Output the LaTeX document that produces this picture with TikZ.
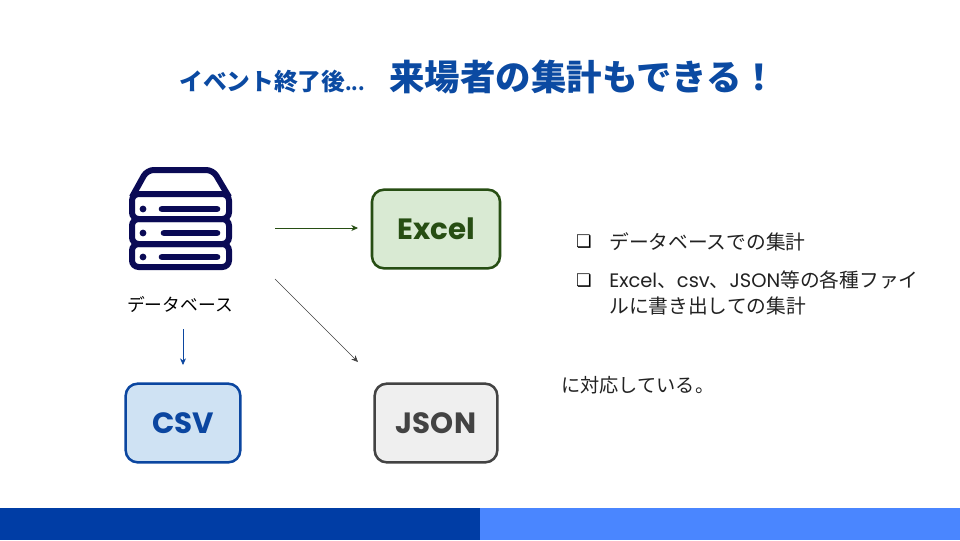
\documentclass[tikz,border=0pt]{standalone}
\usepackage{fontspec}
\setmainfont{Poppins}
\newfontfamily\jpfont{Noto Sans CJK JP}
\usetikzlibrary{arrows.meta}
\definecolor{titleblue}{HTML}{0B4AA2}
\definecolor{barblue}{HTML}{003DA5}
\definecolor{barlight}{HTML}{4A86FF}
\definecolor{dbnavy}{HTML}{0A0A55}
\definecolor{excelgreen}{HTML}{274E13}
\definecolor{excelfill}{HTML}{D9EAD3}
\definecolor{csvblue}{HTML}{0B46A0}
\definecolor{csvfill}{HTML}{CFE2F3}
\definecolor{jsongray}{HTML}{434343}
\definecolor{jsonfill}{HTML}{EFEFEF}
\definecolor{bodytext}{HTML}{222222}
\tikzset{
	filebox/.style={line width=1.9pt, rounded corners=9pt, font=\bfseries\fontsize{22}{22}\selectfont},
	bodylabel/.style={anchor=west, inner sep=0pt, text=bodytext, font=\jpfont\fontsize{14.8}{19.5}\selectfont},
	bulletmark/.style={inner sep=0pt, text=black, font=\fontsize{13}{13}\selectfont},
	flow/.style={-{Stealth[length=5pt,width=4.5pt]}, line width=0.5pt}
}
\newfontfamily\symbolfont{DejaVu Sans}
\newcommand{\latinpart}[1]{{\fontsize{14.6}{19.5}\selectfont\rmfamily #1}}
\begin{document}
\begin{tikzpicture}[x=0.75pt, y=-0.75pt]
	\useasboundingbox (0,0) rectangle (960,540);
	\fill[white] (0,0) rectangle (960,540);

	% Bottom bars
	\fill[barblue] (0,508) rectangle (480,540);
	\fill[barlight] (480,508) rectangle (960,540);

	% Title
	\node[anchor=base west, inner sep=0pt, text=titleblue, font=\jpfont\bfseries\fontsize{17.8}{18}\selectfont] (subtitle) at (179,90) {イベント終了後{\fontsize{14}{14}\selectfont...}};
	\node[anchor=base west, inner sep=0pt, text=titleblue, font=\jpfont\bfseries\fontsize{26.6}{27}\selectfont] (title) at (389,90) {来場者の集計もできる！};

	% Database icon
	\draw[dbnavy, line width=4.5pt, line join=round, rounded corners=5pt] (132,197) -- (147,170) -- (213,170) -- (229,197);
	\foreach \top/\bot/\mid/\barleft in {194/219/209/162, 219/244/233/164, 244/267/257/162} {
		\draw[dbnavy, line width=4.5pt, rounded corners=5pt] (132,\top) rectangle (229,\bot);
		\fill[dbnavy] (143,\mid) circle (3.4);
		\draw[dbnavy, line width=5pt, line cap=round] (\barleft,\mid) -- (217,\mid);
	}
	\node[inner sep=0pt, text=black, font=\jpfont\fontsize{13.3}{14}\selectfont] (dblabel) at (180,304) {データベース};

	% File boxes
	\node[filebox, draw=excelgreen, text=excelgreen, fill=excelfill, minimum width=96pt, minimum height=59pt] (excel) at (436,229) {Excel};
	\node[filebox, draw=csvblue, text=csvblue, fill=csvfill, minimum width=86pt, minimum height=59pt] (csv) at (183,423) {CSV};
	\node[filebox, draw=jsongray, text=jsongray, fill=jsonfill, minimum width=92pt, minimum height=59pt] (json) at (436,423) {JSON};

	% Arrows
	\coordinate (dbright) at (275,228);
	\coordinate (dbcorner) at (275,279);
	\coordinate (dbbelow) at (183,329);
	\coordinate (excelin) at (358,228);
	\coordinate (jsonin) at (358,362);
	\coordinate (csvin) at (183,365);
	\draw[flow, excelgreen] (dbright) -- (excelin);
	\draw[flow, jsongray] (dbcorner) -- (jsonin);
	\draw[flow, csvblue] (dbbelow) -- (csvin);

	% Right hand text
	\node[bulletmark] (bulletone) at (584,242) {\symbolfont ❏};
	\node[bodylabel] (itemone) at (609,242) {データベースでの集計};
	\node[bulletmark] (bullettwo) at (584,281) {\symbolfont ❏};
	\node[bodylabel, align=left, anchor=north west] (itemtwo) at (609,270) {\latinpart{Excel}、\latinpart{csv}、\latinpart{JSON}等の各種ファイ\\ルに書き出しての集計};
	\node[bodylabel, font=\jpfont\fontsize{14.4}{19.5}\selectfont] (closing) at (561,385) {に対応している。};
\end{tikzpicture}
\end{document}
